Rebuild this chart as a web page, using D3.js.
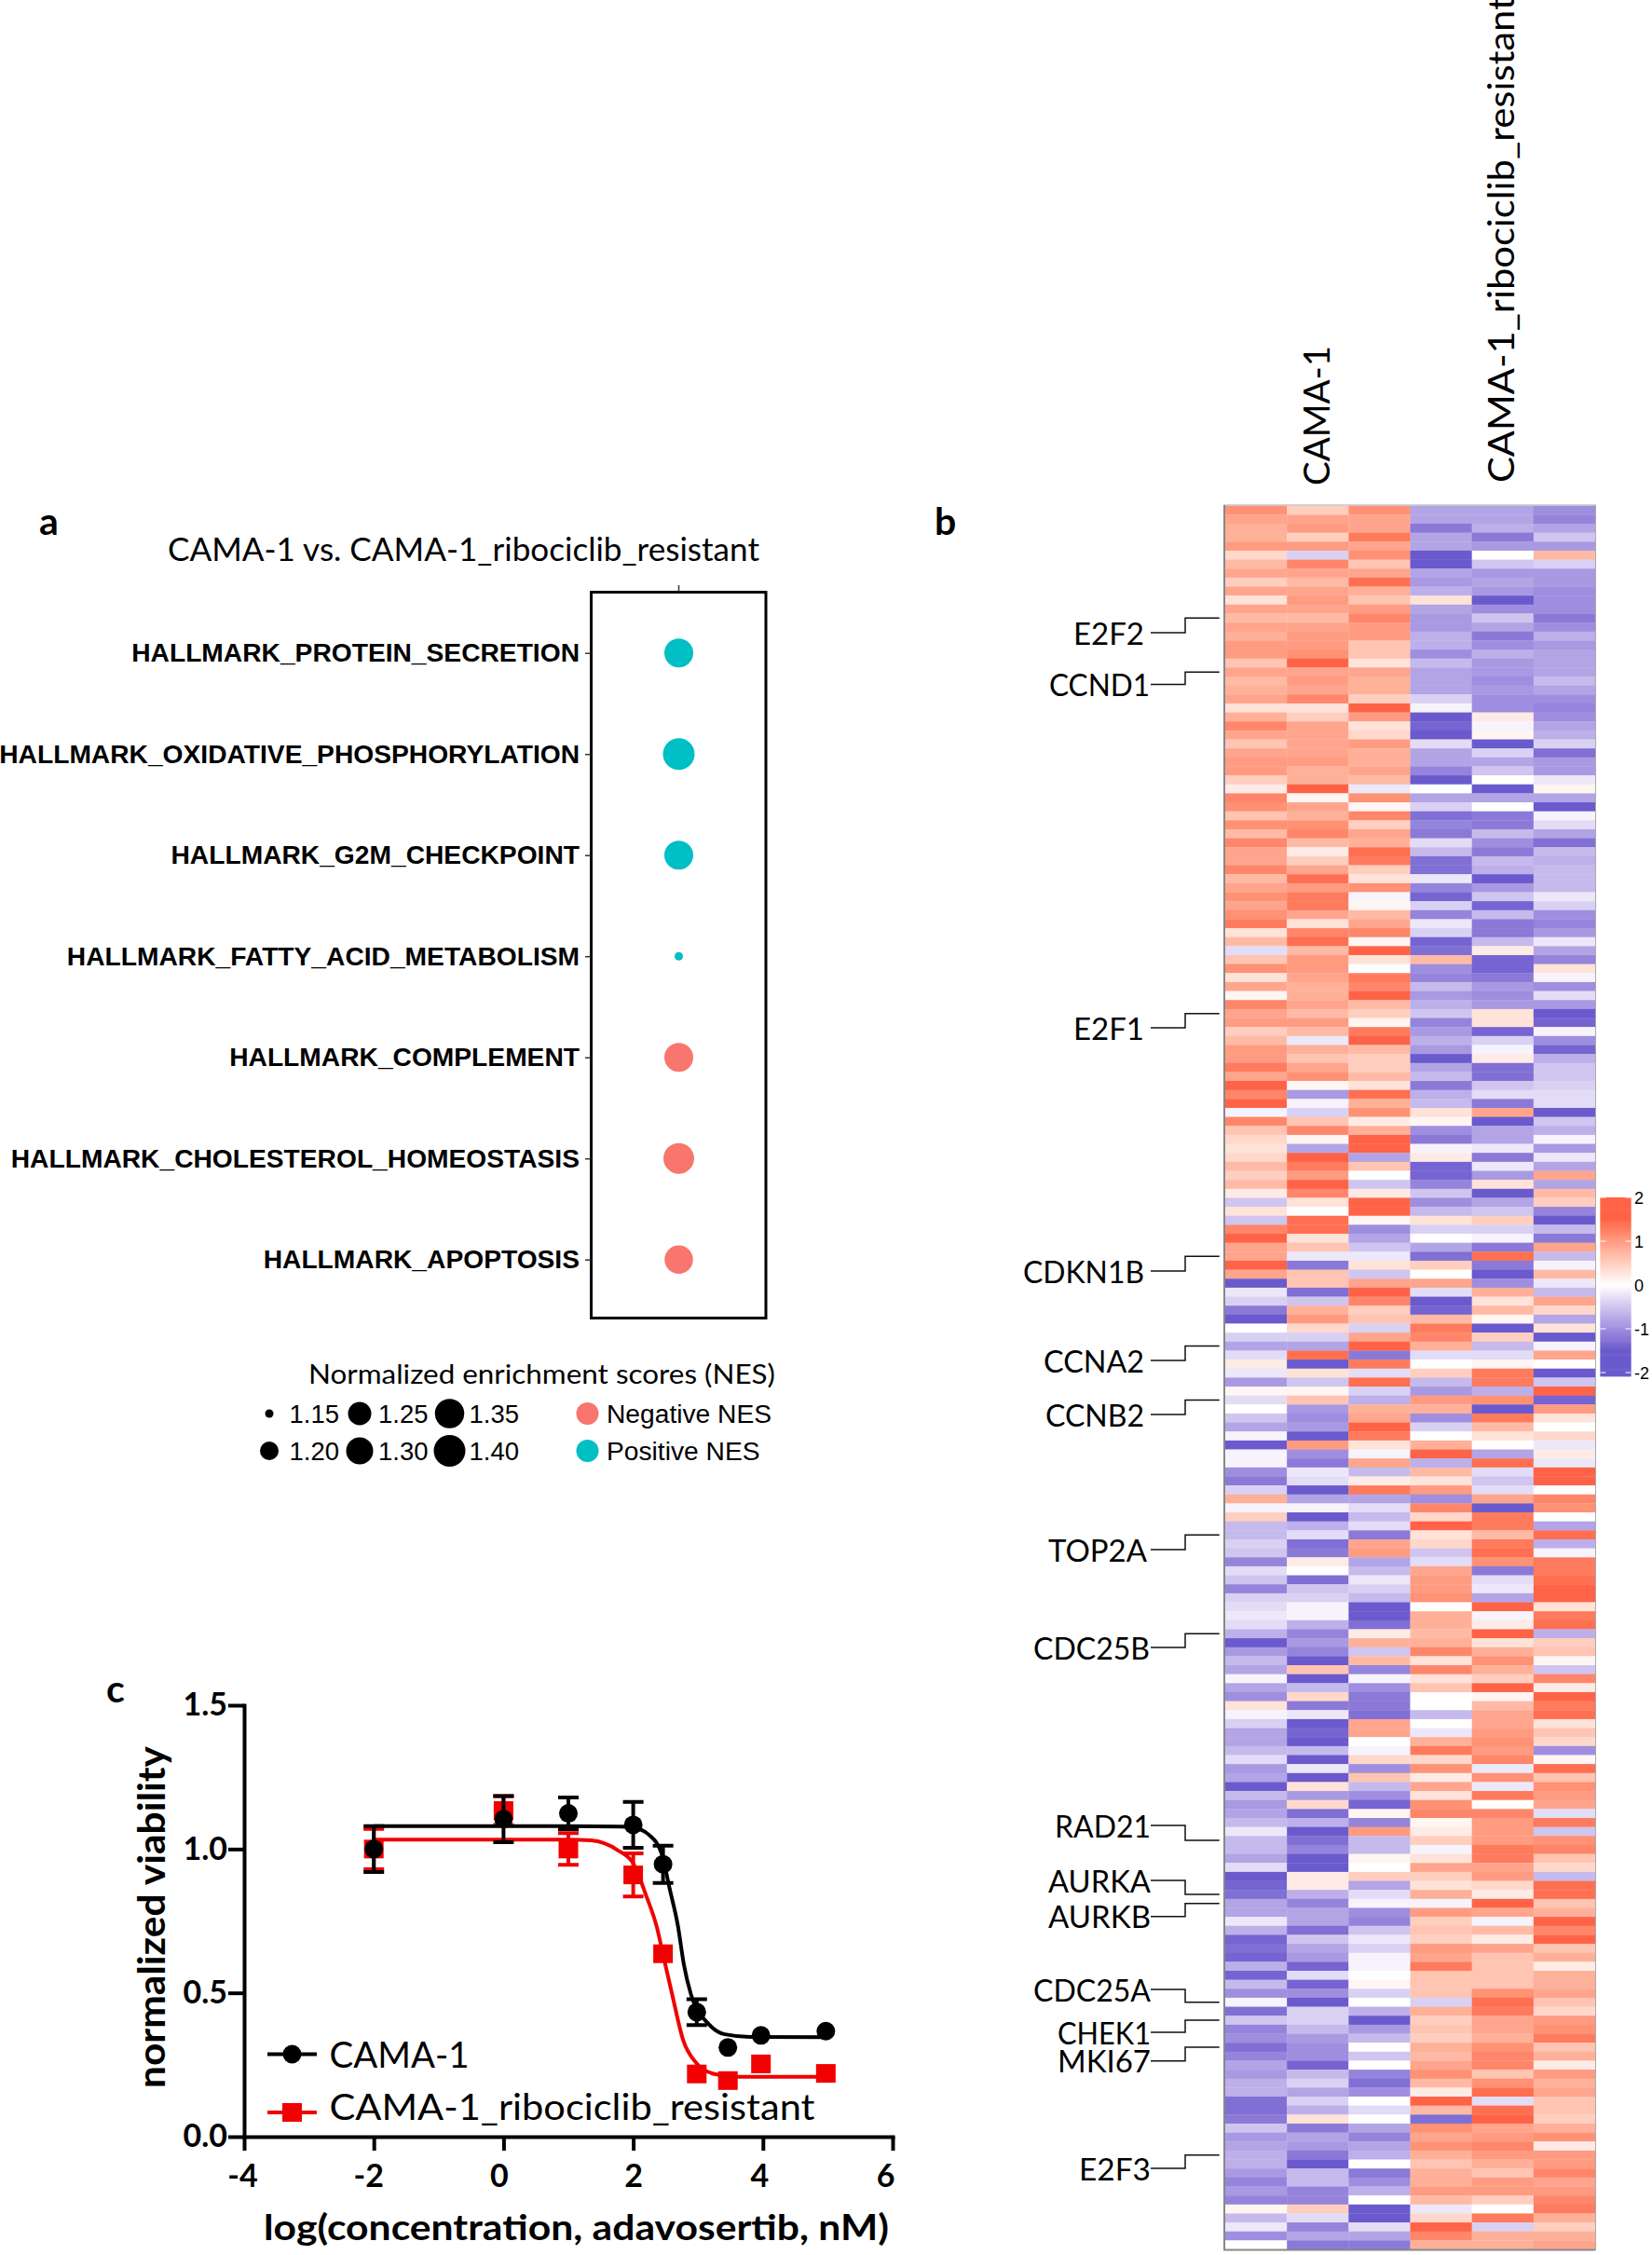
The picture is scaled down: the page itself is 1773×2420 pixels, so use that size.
<!DOCTYPE html>
<html>
<head>
<meta charset="utf-8">
<script src="https://cdn.jsdelivr.net/npm/d3@7"></script>
<style>
html,body{margin:0;padding:0;background:#fff}
svg{display:block}
</style>
</head>
<body>
<svg id="fig" width="1773" height="2420"></svg>
<script>
// ---------- Panel a data ----------
const pathways = ["HALLMARK_PROTEIN_SECRETION","HALLMARK_OXIDATIVE_PHOSPHORYLATION","HALLMARK_G2M_CHECKPOINT","HALLMARK_FATTY_ACID_METABOLISM","HALLMARK_COMPLEMENT","HALLMARK_CHOLESTEROL_HOMEOSTASIS","HALLMARK_APOPTOSIS"];
const nes = [1.34,1.40,1.34,1.15,-1.34,-1.38,-1.33];
const nesBreaks = [1.15,1.20,1.25,1.30,1.35,1.40];

// ---------- Panel b data: z-scores in tenths, one row per gene, six samples ----------
const samples = ["CAMA-1 r1","CAMA-1 r2","CAMA-1 r3","Resistant r1","Resistant r2","Resistant r3"];
const heatRows = [
[11,5,11,-8,-8,-10],[9,9,9,-8,-8,-11],[8,10,9,-12,-7,-8],[8,5,13,-8,-12,-5],[10,10,9,-8,-9,-9],[4,-4,11,-15,0,7],[7,12,6,-15,-5,-4],[9,9,9,-8,-9,-9],
[5,7,14,-9,-8,-9],[9,9,8,-7,-9,-10],[3,10,6,3,-15,-10],[9,9,10,-8,-10,-10],[7,7,12,-9,-5,-12],[9,9,10,-9,-8,-10],[8,10,10,-7,-12,-7],[10,10,6,-7,-10,-9],
[10,11,6,-10,-7,-8],[6,15,3,-6,-9,-8],[9,9,9,-8,-9,-8],[7,10,8,-8,-10,-6],[8,9,8,-8,-9,-8],[9,12,5,-4,-10,-10],[3,3,15,-1,-10,-11],[8,5,10,-15,2,-10],
[12,9,3,-14,-1,-8],[9,9,4,-15,1,-7],[6,9,10,-3,-15,-4],[9,9,8,-8,-4,-13],[10,10,8,-8,-8,-9],[10,8,9,-11,-5,-9],[5,8,7,-15,0,-2],[2,15,-2,0,-15,1],
[12,1,11,-8,-8,-8],[11,9,1,-4,0,-15],[6,8,12,-13,-12,-1],[11,11,5,-11,-12,-3],[7,12,9,-12,-6,-8],[12,7,8,-3,-10,-13],[9,2,14,-6,-12,-6],[9,5,13,-13,-6,-7],
[12,9,5,-13,-7,-6],[7,14,3,-2,-15,-6],[9,10,11,-11,-9,-6],[11,13,-1,-14,-5,-2],[9,13,1,-4,-14,-4],[11,9,7,-11,-6,-10],[13,3,9,-2,-12,-11],[3,12,12,-4,-12,-9],
[7,14,1,-14,-6,-2],[-3,7,15,-13,2,-8],[6,10,3,7,-14,-11],[11,10,0,-10,-14,3],[3,9,13,-11,-12,-1],[9,8,12,-6,-9,-10],[1,8,15,-9,-10,-3],[12,9,7,-7,-9,-9],
[9,7,5,-5,3,-15],[10,10,1,-11,3,-14],[5,7,13,-9,-14,-1],[7,-2,15,-7,-4,-10],[10,8,7,-9,-1,-14],[10,6,5,-15,2,-7],[13,9,5,-8,-13,-5],[9,11,7,-6,-13,-5],
[15,1,3,-12,-5,-4],[12,-9,14,-7,-3,-3],[15,-1,8,-6,-12,-3],[-1,-4,11,3,9,-15],[12,6,2,1,-15,-5],[6,12,8,-10,-8,-7],[4,1,15,-12,-8,-1],[3,-8,15,-1,-2,-9],
[4,15,-8,2,-12,-2],[7,13,6,-14,-2,-8],[5,10,0,-14,-9,9],[7,15,-5,-11,3,-8],[2,12,2,-5,-15,7],[-5,3,15,-10,-8,5],[3,0,15,-6,-5,-11],[-5,14,1,3,5,-15],
[12,14,-10,-4,-4,-6],[15,3,-8,0,-1,-12],[9,6,-5,-8,-12,9],[9,-2,-2,-13,14,-6],[15,-12,3,5,-12,-1],[9,6,-5,0,-15,7],[-15,6,9,9,-10,-2],[-2,-13,15,-3,8,-6],
[-4,-5,12,-15,3,9],[-12,8,5,-14,7,4],[-15,10,6,7,1,-8],[0,4,-4,13,-15,3],[-4,-4,9,12,5,-15],[-8,-8,15,8,-6,-1],[-3,14,-12,-3,-3,9],[2,-15,13,0,1,0],
[-2,3,-3,5,13,-15],[-9,-5,14,-6,13,-5],[1,1,-4,-9,-7,15],[-3,6,-7,10,11,-14],[0,-9,8,8,-15,10],[-5,-10,9,-10,13,3],[-8,-9,15,-4,7,0],[-1,-15,13,0,3,4],
[-15,10,3,8,0,-2],[-1,-10,-1,15,-8,2],[-1,-12,9,-7,14,-2],[-10,-2,-6,7,-3,15],[-12,-3,2,3,-5,15],[-4,-15,13,10,-3,0],[8,-8,-8,-10,9,12],[-1,-1,-3,12,-15,11],
[5,-15,-6,4,13,0],[-6,-7,-3,15,13,-8],[-6,-3,-12,3,7,14],[-4,-13,9,4,13,-7],[-5,-12,10,-5,14,-1],[-11,2,-8,-3,11,13],[-3,0,-6,9,-12,13],[-5,-13,-2,10,-3,14],
[-11,-5,-4,10,-2,15],[-4,-4,-6,11,-8,15],[-3,-1,-15,0,15,3],[-2,-1,-15,8,-1,13],[-3,-7,-13,8,2,14],[-7,-11,2,7,15,-7],[-15,-9,8,8,3,5],[-9,-11,-5,12,8,6],
[-6,-15,7,3,11,1],[-8,6,-11,12,8,-5],[-1,-15,-1,3,5,12],[-8,-6,-10,6,15,2],[-10,4,-12,0,1,15],[3,-12,-12,0,7,13],[-1,-2,-13,-6,9,14],[-4,-15,9,0,9,3],
[-8,-14,9,-2,10,6],[-8,-15,0,8,11,4],[-6,-6,-1,13,10,-10],[-3,-15,4,4,12,1],[-9,-2,-10,11,-2,14],[-8,-15,6,2,11,6],[-15,3,-6,9,-2,11],[-6,-9,-10,3,13,10],
[-9,4,-14,11,0,9],[-8,-13,1,12,12,-3],[-6,-7,-11,1,10,13],[-2,-15,10,2,10,-5],[-6,-13,-6,5,10,11],[-6,-11,-6,-1,13,12],[-8,-15,1,3,13,6],[-3,-15,0,9,9,4],
[-15,2,5,5,10,-6],[-14,2,-8,3,4,14],[-13,-7,-3,8,2,14],[-8,-11,-1,-1,15,6],[-8,-8,-10,10,9,8],[-2,-8,-11,5,-1,15],[-7,-13,-5,6,7,12],[-14,-5,-2,5,2,15],
[-13,-8,-4,10,9,6],[-14,-9,-1,9,6,8],[-7,-14,-1,13,6,2],[-14,-3,0,6,6,8],[-6,-14,1,6,6,8],[-10,-10,-4,6,11,9],[-1,-15,0,-4,14,6],[-13,-4,-7,8,13,4],
[-5,-4,-15,5,9,10],[-11,-6,-9,6,9,11],[-10,-9,-6,5,8,13],[-13,-10,0,8,11,6],[-11,-10,-5,7,12,8],[-8,-14,0,9,12,2],[-9,-6,-11,11,6,10],[-7,-4,-13,7,11,8],
[-7,-8,-10,2,14,9],[-13,-4,0,15,-3,6],[-13,-7,-3,7,14,6],[-12,3,0,-13,15,5],[-5,-12,-8,11,9,8],[-9,-8,-11,9,10,11],[-8,-9,-8,11,12,2],[-7,-12,-7,8,10,10],
[-7,-15,0,6,8,10],[-9,-6,-12,8,6,12],[-11,-6,-10,8,10,9],[-9,-11,-7,10,10,10],[-11,-11,0,7,5,12],[1,5,-15,-2,0,13],[-6,-3,-15,4,13,8],[-2,-11,-3,15,-4,5],
[-10,-8,-8,12,8,8],[0,-12,-12,8,8,9]
];
const geneNames = ["E2F2","CCND1","E2F1","CDKN1B","CCNA2","CCNB2","TOP2A","CDC25B","RAD21","AURKA","AURKB","CDC25A","CHEK1","MKI67","E2F3"];
const geneRows = [12,18,56,83,93,99,114,125,148,154,155,166,168,171,183];   // heat row each bracket points to
const colorbarTicks = [2,1,0,-1,-2];

// ---------- Panel c data ----------
const doses = [-2,0,1,2,2.46,2.98,3.46,3.97,4.97];
const camaViability = [1.0,1.104,1.124,1.084,0.947,0.433,0.31,0.352,0.367];
const camaError = [0.08,0.08,0.055,0.08,0.065,0.045,0,0,0];
const resViability = [1.0,1.134,1.0,0.91,0.636,0.218,0.195,0.253,0.22];
const resError = [0.07,0.05,0.055,0.075,0,0,0,0,0];
const camaFitX = [-2,0,1,1.8,2.0,2.24,2.44,2.56,2.69,2.78,2.89,3.17,3.41,3.8,5.0];
const camaFitY = [1.08,1.08,1.08,1.078,1.075,1.05,0.983,0.864,0.732,0.60,0.495,0.39,0.356,0.347,0.346];
const resFitX = [-2,0,1,1.35,1.76,2.0,2.2,2.36,2.48,2.6,2.77,2.97,3.25,3.62,5.0];
const resFitY = [1.033,1.033,1.033,1.03,0.996,0.95,0.838,0.732,0.613,0.495,0.336,0.257,0.218,0.208,0.208];
const xTicksC = [-4,-2,0,2,4,6];
const yTicksC = [0,0.5,1.0,1.5];

// ---------- Drawing ----------
const svg = d3.select("#fig");
const SANS = "'Liberation Sans', Arial, sans-serif";
const HUM = "Lato, 'Open Sans', sans-serif";
const TEAL = "#00BFC4", SALMON = "#F8766D", RED = "#f00000";

function label(g, str, x, y, o = {}) {
  const t = g.append("text").attr("x", x).attr("y", y).text(str)
    .attr("font-family", o.family || HUM)
    .attr("font-size", o.size || 32)
    .attr("font-weight", o.weight || "normal")
    .attr("text-anchor", o.anchor || "start")
    .attr("fill", "#000");
  if (o.width) t.attr("textLength", o.width).attr("lengthAdjust", "spacingAndGlyphs");
  if (o.rotate) t.attr("transform", `rotate(-90 ${x} ${y})`);
  return t;
}

// Panel letters
label(svg, "a", 42, 574, {size: 41, weight: "bold"});
label(svg, "b", 1003, 574, {size: 41, weight: "bold"});
label(svg, "c", 114, 1827, {size: 41, weight: "bold"});

// ===== Panel a =====
const gA = svg.append("g");
const yA = d3.scalePoint().domain(pathways).range([700.7, 1351.7]);
const xACenter = 728.5;
const dA = d3.scaleLinear().domain(nesBreaks).range([9, 20, 25, 29, 31.5, 34]);

label(gA, "CAMA-1 vs. CAMA-1_ribociclib_resistant", 180, 602, {size: 34, width: 635});

gA.append("rect").attr("x", 634.5).attr("y", 635.5).attr("width", 187.5).attr("height", 779)
  .attr("fill", "none").attr("stroke", "#000").attr("stroke-width", 3);
gA.append("line").attr("x1", xACenter).attr("x2", xACenter).attr("y1", 628).attr("y2", 635)
  .attr("stroke", "#333").attr("stroke-width", 1.5);

const axA = gA.append("g").attr("transform", "translate(634,0)")
  .call(d3.axisLeft(yA).tickSize(6).tickPadding(6));
axA.select(".domain").remove();
axA.selectAll(".tick line").attr("stroke", "#333").attr("stroke-width", 1.5);
axA.selectAll(".tick text").attr("font-family", SANS).attr("font-size", 28.2).attr("font-weight", "bold").attr("fill", "#000");

gA.selectAll("circle.nes").data(pathways).join("circle").attr("class", "nes")
  .attr("cx", xACenter).attr("cy", d => yA(d))
  .attr("r", (d, i) => dA(Math.abs(nes[i])) / 2)
  .attr("fill", (d, i) => nes[i] > 0 ? TEAL : SALMON);

// Panel a legend
label(gA, "Normalized enrichment scores (NES)", 331, 1485, {size: 29, width: 501});
const legRowY = [1517, 1557];
const legColX = [289, 386, 482.5];
const legTextX = [310.5, 406, 503.5];
nesBreaks.forEach((b, i) => {
  const col = Math.floor(i / 2), row = i % 2;
  gA.append("circle").attr("cx", legColX[col]).attr("cy", legRowY[row]).attr("r", dA(b) / 2).attr("fill", "#000");
  label(gA, b.toFixed(2), legTextX[col], legRowY[row] + 9.5, {family: SANS, size: 27.5});
});
[["Negative NES", SALMON], ["Positive NES", TEAL]].forEach(([t, c], i) => {
  gA.append("circle").attr("cx", 630.5).attr("cy", legRowY[i]).attr("r", 12).attr("fill", c);
  label(gA, t, 651, legRowY[i] + 9.5, {family: SANS, size: 28.2});
});

// ===== Panel b =====
const gB = svg.append("g");
const xB = d3.scaleBand().domain(samples).range([1315, 1712]);
const yB = d3.scaleBand().domain(d3.range(heatRows.length)).range([542.7, 2414]);
const heatColor = d3.scaleLinear().domain([-15, 0, 15]).range(["#6a5acd", "#ffffff", "#ff6347"])
  .interpolate(d3.interpolateLab).clamp(true);

gB.selectAll("g.row").data(heatRows).join("g").attr("class", "row")
  .attr("transform", (d, i) => `translate(0,${yB(i)})`)
  .selectAll("rect").data(d => d).join("rect")
  .attr("x", (d, i) => xB(samples[i]))
  .attr("width", xB.bandwidth() + 0.3)
  .attr("height", yB.bandwidth() + 0.3)
  .attr("fill", d => heatColor(d));

gB.append("rect").attr("x", 1314).attr("y", 542).attr("width", 398.5).attr("height", 1872.5)
  .attr("fill", "none").attr("stroke", "#aaa").attr("stroke-width", 1);
gB.append("path").attr("d", d3.line()([[1314, 542], [1314, 2414.5], [1712, 2414.5]]))
  .attr("fill", "none").attr("stroke", "#888").attr("stroke-width", 2);

label(gB, "CAMA-1", 1427, 521, {size: 38, width: 150, rotate: true});
label(gB, "CAMA-1_ribociclib_resistant", 1625, 518, {size: 38, width: 522, rotate: true});

// Gene brackets
const geneLabelY = [679, 734.5, 1103, 1364, 1460, 1518, 1663, 1768, 1959, 2018, 2056.7, 2135, 2181, 2211.7, 2327];
const geneTextEnd = [1228, 1234, 1228, 1228, 1228, 1228, 1231, 1234, 1235, 1235, 1235, 1235, 1235, 1235, 1235];
const geneTextWidth = [76, 108, 76, 130, 108, 106, 106, 125, 103, 110, 110, 126, 100, 100, 77];
geneNames.forEach((g, i) => {
  const yL = geneLabelY[i], yR = yB(geneRows[i]) + yB.bandwidth() / 2;
  label(gB, g, geneTextEnd[i] - geneTextWidth[i], yL + 12.5, {size: 33, width: geneTextWidth[i]});
  gB.append("path").attr("d", d3.line()([[1235, yL], [1272, yL], [1272, yR], [1308.7, yR]]))
    .attr("fill", "none").attr("stroke", "#111").attr("stroke-width", 1.5);
});

// Colour bar
const yBar = d3.scaleLinear().domain([-2, 2]).range([1473, 1285]);
const barSteps = d3.range(-2.08, 2.0, 0.02);
gB.selectAll("rect.bar").data(barSteps).join("rect").attr("class", "bar")
  .attr("x", 1717.5).attr("width", 33)
  .attr("y", d => yBar(d) - 1).attr("height", 1.6)
  .attr("fill", d => heatColor(d * 10));
colorbarTicks.forEach(t => {
  gB.append("line").attr("x1", 1717.5).attr("x2", 1723.5).attr("y1", yBar(t)).attr("y2", yBar(t)).attr("stroke", "#fff").attr("stroke-width", 1);
  gB.append("line").attr("x1", 1744.5).attr("x2", 1750.5).attr("y1", yBar(t)).attr("y2", yBar(t)).attr("stroke", "#fff").attr("stroke-width", 1);
  label(gB, t, 1754, yBar(t) + 6.5, {family: SANS, size: 18});
});

// ===== Panel c =====
const gC = svg.append("g");
const xC = d3.scaleLinear().domain([-4, 6]).range([262, 958]);
const yC = d3.scaleLinear().domain([0, 1.5]).range([2293, 1830]);

const axX = gC.append("g").attr("transform", "translate(0,2293)")
  .call(d3.axisBottom(xC).tickValues(xTicksC).tickSize(15).tickSizeOuter(0).tickPadding(15).tickFormat(d3.format("-d")));
const axY = gC.append("g").attr("transform", "translate(262,0)")
  .call(d3.axisLeft(yC).tickValues(yTicksC).tickSize(17).tickSizeOuter(0).tickPadding(1).tickFormat(d3.format(".1f")));
[axX, axY].forEach(a => {
  a.select(".domain").attr("stroke", "#000").attr("stroke-width", 4).attr("stroke-linecap", "square");
  a.selectAll(".tick line").attr("stroke", "#000").attr("stroke-width", 4);
  a.selectAll(".tick text").attr("font-family", HUM).attr("font-size", 34).attr("font-weight", "bold").attr("fill", "#000");
});
const xTickNudge = [-2, -6, -5, 0, -4, -8];
axX.selectAll(".tick text")
  .text(d => String(d).replace("\u2212", "-"))
  .attr("dx", (d, i) => xTickNudge[i]);

const fitLine = d3.line().x(d => xC(d[0])).y(d => yC(d[1])).curve(d3.curveMonotoneX);
gC.append("path").attr("d", fitLine(d3.zip(resFitX, resFitY))).attr("fill", "none").attr("stroke", RED).attr("stroke-width", 4);

function errorBars(vals, errs, color) {
  doses.forEach((x, i) => {
    if (!errs[i]) return;
    const px = xC(x), t = yC(vals[i] + errs[i]), b = yC(vals[i] - errs[i]);
    gC.append("path").attr("d", `M${px - 11},${t}H${px + 11}M${px},${t}V${b}M${px - 11},${b}H${px + 11}`)
      .attr("fill", "none").attr("stroke", color).attr("stroke-width", 4);
  });
}
errorBars(resViability, resError, RED);
gC.selectAll("rect.res").data(doses).join("rect").attr("class", "res")
  .attr("x", d => xC(d) - 10.5).attr("width", 21)
  .attr("y", (d, i) => yC(resViability[i]) - 10).attr("height", 20).attr("fill", RED);

gC.append("path").attr("d", fitLine(d3.zip(camaFitX, camaFitY))).attr("fill", "none").attr("stroke", "#000").attr("stroke-width", 4);
errorBars(camaViability, camaError, "#000");
gC.selectAll("circle.cama").data(doses).join("circle").attr("class", "cama")
  .attr("cx", d => xC(d)).attr("cy", (d, i) => yC(camaViability[i])).attr("r", 10).attr("fill", "#000");

label(gC, "normalized viability", 177, 2241, {size: 41, weight: "bold", width: 367, rotate: true});
label(gC, "log(concentration, adavosertib, nM)", 283, 2404, {size: 38, weight: "bold", width: 671});

// Panel c legend
gC.append("line").attr("x1", 287).attr("x2", 340).attr("y1", 2204.5).attr("y2", 2204.5).attr("stroke", "#000").attr("stroke-width", 4);
gC.append("circle").attr("cx", 313.5).attr("cy", 2204.5).attr("r", 10).attr("fill", "#000");
gC.append("line").attr("x1", 287).attr("x2", 340).attr("y1", 2267).attr("y2", 2267).attr("stroke", RED).attr("stroke-width", 4);
gC.append("rect").attr("x", 303).attr("width", 21).attr("y", 2257).attr("height", 20).attr("fill", RED);
label(gC, "CAMA-1", 353.5, 2219, {size: 38, width: 150});
label(gC, "CAMA-1_ribociclib_resistant", 353.5, 2275, {size: 38, width: 521});
</script>
</body>
</html>
